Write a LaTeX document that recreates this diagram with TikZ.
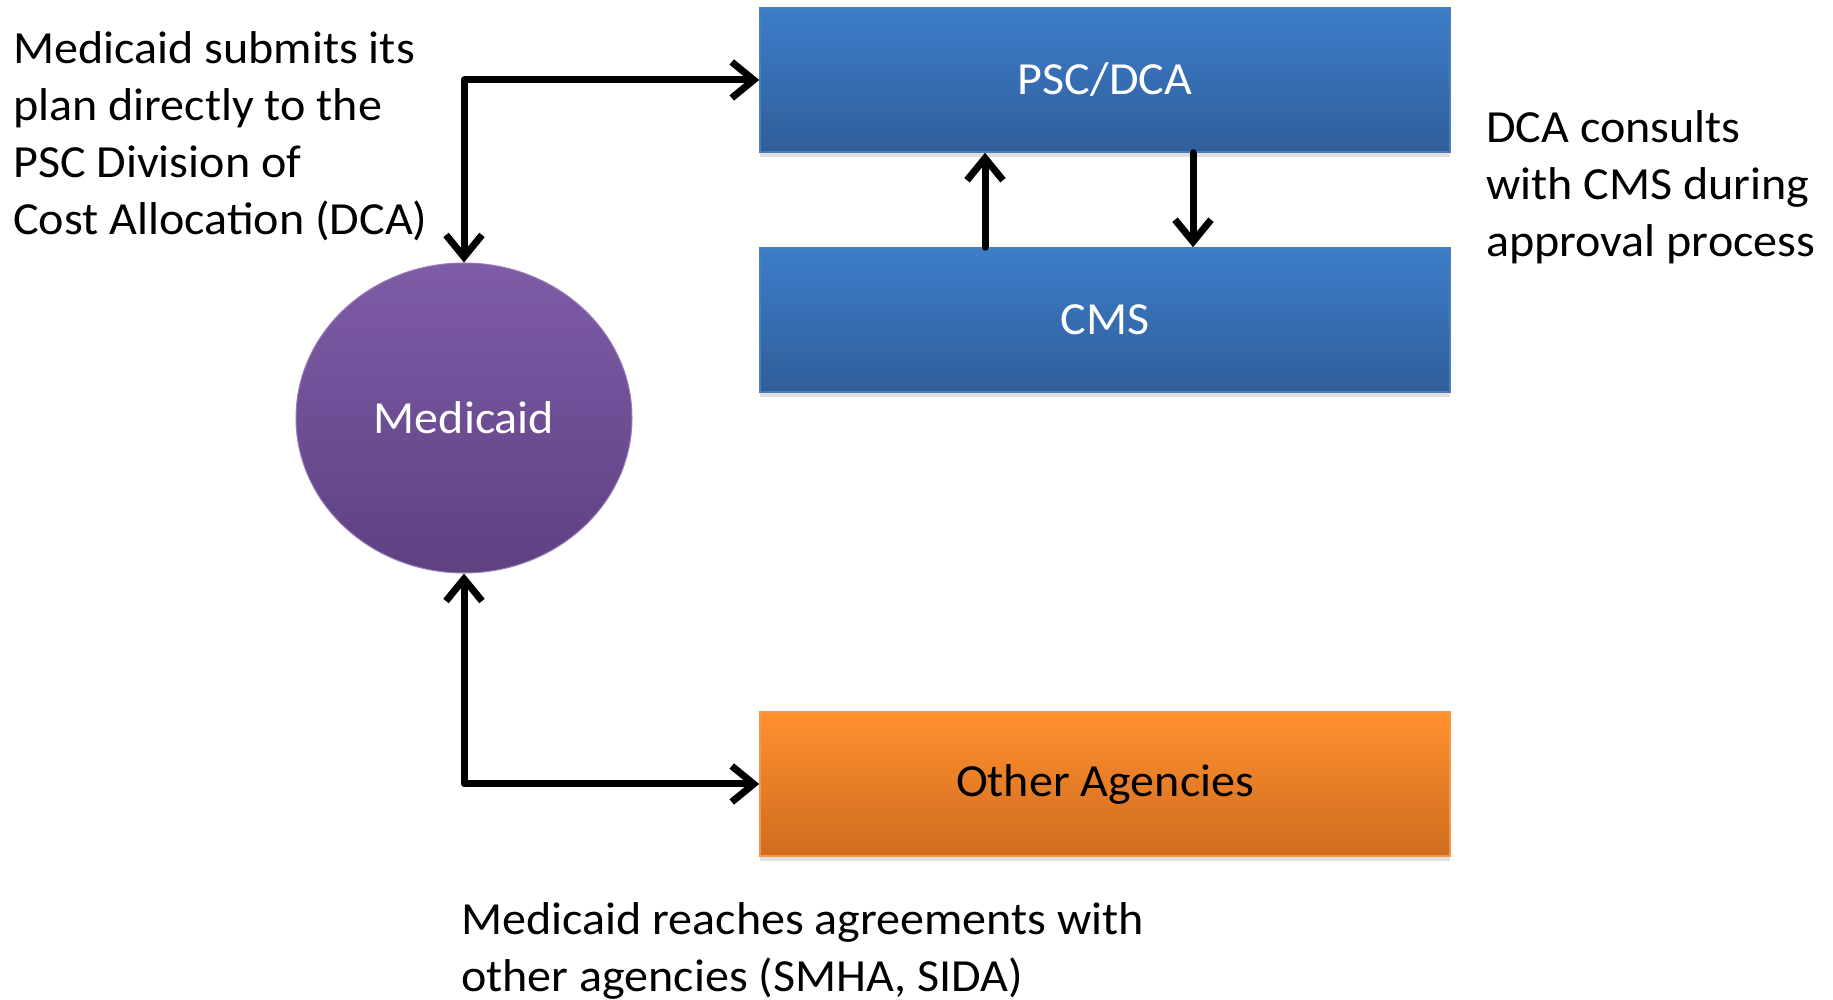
\documentclass[tikz,border=0pt]{standalone}
\usepackage{fontspec}
\setmainfont{Carlito}[FakeStretch=1.045]
\usetikzlibrary{arrows.meta,shadows,shapes.geometric}

\definecolor{blueTop}{HTML}{3D7DCA}
\definecolor{blueBot}{HTML}{2F5E9A}
\definecolor{blueLine}{HTML}{4A7EBB}
\definecolor{orangeTop}{HTML}{FF902F}
\definecolor{orangeBot}{HTML}{CF6C1F}
\definecolor{orangeLine}{HTML}{F79646}
\definecolor{purpleTop}{HTML}{7E5CA7}
\definecolor{purpleBot}{HTML}{5D4181}

\newcommand{\notefont}{\fontsize{46}{57}\selectfont}

\tikzstyle{agency} = [rectangle, minimum width=690pt, minimum height=144pt, inner sep=0pt, line width=1.5pt, font=\notefont,
  drop shadow={shadow xshift=0pt, shadow yshift=-5pt, opacity=0.25}]
\tikzstyle{bluebox} = [agency, draw=blueLine, top color=blueTop, bottom color=blueBot, text=white]
\tikzstyle{orangebox} = [agency, draw=orangeLine, top color=orangeTop, bottom color=orangeBot, text=black]
\tikzstyle{state} = [ellipse, minimum width=336pt, minimum height=310pt, inner sep=0pt, font=\notefont, text=white,
  top color=purpleTop, bottom color=purpleBot, draw=purpleTop!80!white, line width=1pt]
\tikzstyle{note} = [anchor=north west, align=left, inner sep=0pt, font=\notefont]
\tikzstyle{link} = [line width=7pt, line cap=round, line join=round]

\begin{document}
\begin{tikzpicture}[x=1pt, y=1pt, >={Straight Barb[length=22pt,width=36pt]}]
	\useasboundingbox (0,0) rectangle (1833,1000);

	\node[bluebox] (psc) at (1105,920) {PSC/DCA};
	\node[bluebox] (cms) at (1105,680) {CMS};
	\node[orangebox] (other) at (1105,216) {Other Agencies};
	\node[state] (med) at (464,582) {Medicaid};

	\node[note] (submit) at (13,969) {Medicaid submits its\\plan directly to the\\PSC Division of\\Cost Allocation (DCA)};
	\node[note] (consult) at (1486,890) {DCA consults\\with CMS during\\approval process};
	\node[note] (agree) at (461,98) {Medicaid reaches agreements with\\other agencies (SMHA, SIDA)};

	\draw[link,<->] (med.north) |- (psc.west);
	\draw[link,->] ([xshift=-120pt]cms.north) -- ([xshift=-120pt]psc.south);
	\draw[link,->] ([xshift=88pt]psc.south) -- ([xshift=88pt]cms.north);
	\draw[link,<->] (med.south) |- (other.west);
\end{tikzpicture}
\end{document}
